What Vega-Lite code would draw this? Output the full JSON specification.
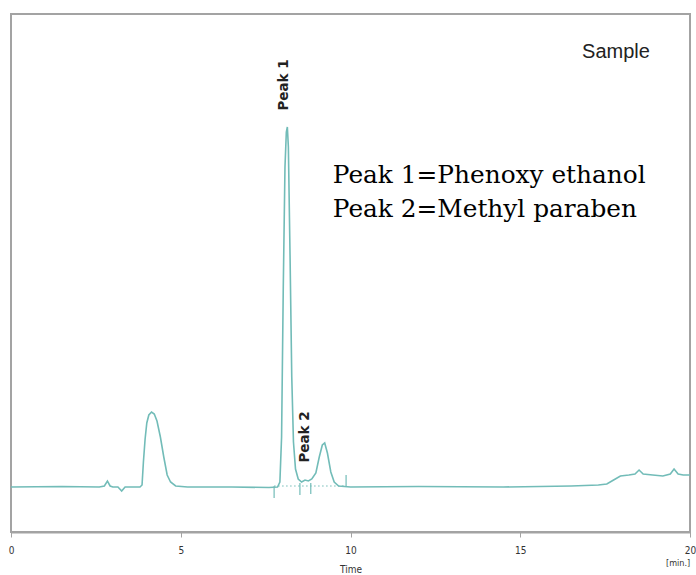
{
  "$schema": "https://vega.github.io/schema/vega-lite/v6.json",
  "width": 679,
  "height": 518,
  "autosize": "none",
  "padding": {"left": 11, "top": 14, "right": 6, "bottom": 43},
  "background": "white",
  "config": {
    "view": {"stroke": "#a3a3a3", "strokeWidth": 2},
    "axis": {"grid": false}
  },
  "datasets": {
    "trace": [
      {"t": 0, "s": 0}, {"t": 1.5, "s": 0.5}, {"t": 2.6, "s": 0}, {"t": 2.75, "s": 1},
      {"t": 2.84, "s": 6}, {"t": 2.92, "s": 1}, {"t": 3.0, "s": 0}, {"t": 3.15, "s": 0},
      {"t": 3.26, "s": -4}, {"t": 3.36, "s": 0}, {"t": 3.8, "s": 0}, {"t": 3.86, "s": 2},
      {"t": 3.9, "s": 25}, {"t": 3.95, "s": 48}, {"t": 4.0, "s": 64}, {"t": 4.06, "s": 72},
      {"t": 4.14, "s": 75}, {"t": 4.22, "s": 73}, {"t": 4.3, "s": 66}, {"t": 4.4, "s": 50},
      {"t": 4.5, "s": 30}, {"t": 4.6, "s": 12}, {"t": 4.7, "s": 5}, {"t": 4.85, "s": 1},
      {"t": 5.2, "s": 0}, {"t": 6.5, "s": 0}, {"t": 7.6, "s": -0.5}, {"t": 7.85, "s": 0},
      {"t": 7.92, "s": 5}, {"t": 7.97, "s": 50}, {"t": 8.02, "s": 200}, {"t": 8.07, "s": 320},
      {"t": 8.11, "s": 355}, {"t": 8.14, "s": 360}, {"t": 8.17, "s": 340}, {"t": 8.22, "s": 230},
      {"t": 8.27, "s": 110}, {"t": 8.32, "s": 45}, {"t": 8.38, "s": 18}, {"t": 8.46, "s": 8},
      {"t": 8.56, "s": 5}, {"t": 8.66, "s": 7}, {"t": 8.76, "s": 6}, {"t": 8.86, "s": 8},
      {"t": 8.98, "s": 14}, {"t": 9.08, "s": 30}, {"t": 9.17, "s": 42}, {"t": 9.24, "s": 44},
      {"t": 9.32, "s": 34}, {"t": 9.42, "s": 15}, {"t": 9.52, "s": 5}, {"t": 9.65, "s": 1},
      {"t": 10.0, "s": 0}, {"t": 12.0, "s": 0.5}, {"t": 14.5, "s": 0}, {"t": 16.5, "s": 1},
      {"t": 17.3, "s": 2}, {"t": 17.55, "s": 3}, {"t": 17.75, "s": 7}, {"t": 17.95, "s": 11},
      {"t": 18.2, "s": 12}, {"t": 18.38, "s": 13}, {"t": 18.5, "s": 17}, {"t": 18.62, "s": 13},
      {"t": 18.9, "s": 12}, {"t": 19.2, "s": 11}, {"t": 19.42, "s": 13}, {"t": 19.53, "s": 18},
      {"t": 19.65, "s": 13}, {"t": 19.8, "s": 12}, {"t": 20.0, "s": 12}
    ],
    "marks": [
      {"t": 7.75, "s1": 1, "s2": -11},
      {"t": 8.51, "s1": 4, "s2": -8},
      {"t": 8.83, "s1": 4, "s2": -7},
      {"t": 9.87, "s1": 12, "s2": 0}
    ]
  },
  "layer": [
    {
      "data": {"name": "trace"},
      "mark": {"type": "line", "color": "#72bcb8", "strokeWidth": 1.6, "clip": true},
      "encoding": {
        "x": {"field": "t", "type": "quantitative",
          "scale": {"domain": [0, 20], "nice": false, "zero": false},
          "axis": {"values": [0, 5, 10, 15, 20], "title": "Time", "titleFont": "DejaVu Sans Condensed",
            "titleFontSize": 10, "titleFontWeight": "normal", "titleColor": "#333", "titlePadding": 9,
            "labelFont": "DejaVu Sans Condensed", "labelFontSize": 10, "labelColor": "#333",
            "labelFlush": false, "labelBound": false, "labelOverlap": false, "labelPadding": 8,
            "domainColor": "#a3a3a3", "domainWidth": 2, "tickColor": "#a3a3a3", "tickSize": 5}},
        "y": {"field": "s", "type": "quantitative",
          "scale": {"domain": [-45, 473], "nice": false, "zero": false}, "axis": null}
      }
    },
    {
      "data": {"name": "marks"},
      "mark": {"type": "rule", "color": "#72bcb8", "strokeWidth": 1.2},
      "encoding": {
        "x": {"field": "t", "type": "quantitative"},
        "y": {"field": "s1", "type": "quantitative"},
        "y2": {"field": "s2"}
      }
    },
    {
      "data": {"values": [{"a": 7.75, "b": 9.87, "s": 1}]},
      "mark": {"type": "rule", "color": "#72bcb8", "strokeWidth": 1.2, "strokeDash": [1.5, 2.5]},
      "encoding": {
        "x": {"field": "a", "type": "quantitative"},
        "x2": {"field": "b"},
        "y": {"field": "s", "type": "quantitative"}
      }
    },
    {
      "data": {"values": [
        {"t": 8.04, "s": 402, "label": "Peak 1"},
        {"t": 8.66, "s": 50, "label": "Peak 2"}
      ]},
      "mark": {"type": "text", "angle": 270, "align": "center", "baseline": "middle",
        "font": "DejaVu Sans", "fontSize": 13.5, "fontWeight": "bold", "color": "#222"},
      "encoding": {
        "x": {"field": "t", "type": "quantitative"},
        "y": {"field": "s", "type": "quantitative"},
        "text": {"field": "label"}
      }
    },
    {
      "data": {"values": [{"t": 16.82, "s": 435, "label": "Sample"}]},
      "mark": {"type": "text", "align": "left", "baseline": "middle",
        "font": "Liberation Sans", "fontSize": 20, "color": "#222"},
      "encoding": {
        "x": {"field": "t", "type": "quantitative"},
        "y": {"field": "s", "type": "quantitative"},
        "text": {"field": "label"}
      }
    },
    {
      "data": {"values": [
        {"t": 9.48, "s": 311, "label": "Peak 1=Phenoxy ethanol"},
        {"t": 9.48, "s": 277, "label": "Peak 2=Methyl paraben"}
      ]},
      "mark": {"type": "text", "align": "left", "baseline": "middle",
        "font": "DejaVu Serif", "fontSize": 24.8, "color": "#000"},
      "encoding": {
        "x": {"field": "t", "type": "quantitative"},
        "y": {"field": "s", "type": "quantitative"},
        "text": {"field": "label"}
      }
    },
    {
      "data": {"values": [{"t": 19.65, "s": -76, "label": "[min.]"}]},
      "mark": {"type": "text", "align": "center", "baseline": "middle",
        "font": "DejaVu Sans Condensed", "fontSize": 9, "color": "#333"},
      "encoding": {
        "x": {"field": "t", "type": "quantitative"},
        "y": {"field": "s", "type": "quantitative"},
        "text": {"field": "label"}
      }
    }
  ]
}
